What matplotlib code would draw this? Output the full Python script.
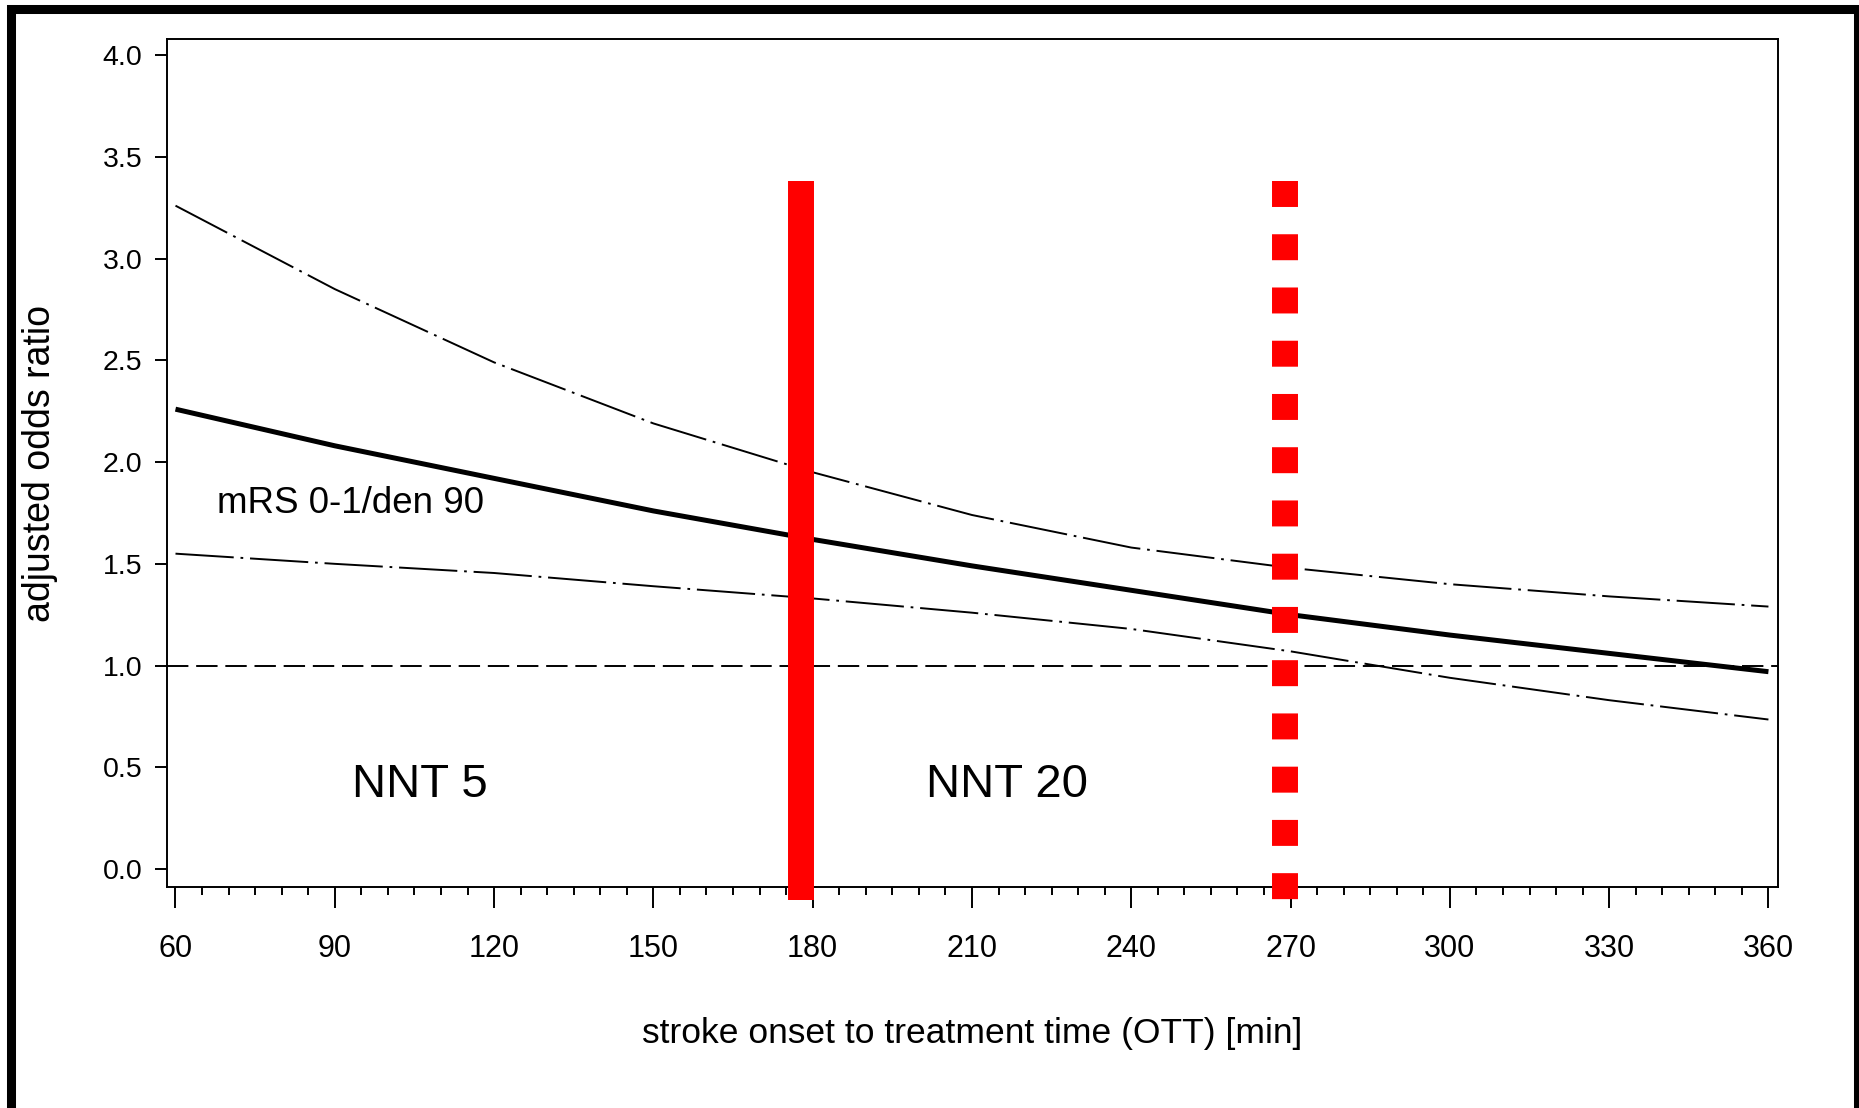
import matplotlib
matplotlib.use("Agg")
import matplotlib.pyplot as plt
import matplotlib.ticker as ticker
from matplotlib.patches import Rectangle

plt.rcParams['font.family'] = ['Liberation Sans', 'DejaVu Sans']

# Data (minutes from stroke onset -> adjusted odds ratio)
ott_min = [60, 90, 120, 150, 180, 210, 240, 270, 300, 330, 360]
odds_ratio = [2.26, 2.08, 1.92, 1.76, 1.62, 1.49, 1.37, 1.25, 1.15, 1.06, 0.97]
upper_ci = [3.26, 2.85, 2.49, 2.19, 1.95, 1.74, 1.58, 1.48, 1.40, 1.34, 1.29]
lower_ci = [1.55, 1.50, 1.455, 1.39, 1.33, 1.26, 1.18, 1.07, 0.94, 0.83, 0.735]

reference_or = 1.0
nnt5_cutoff = 177.8     # solid red marker
nnt20_cutoff = 269.0    # dotted red marker
marker_span = (3.38, -0.152)

x_ticks = list(range(60, 361, 30))
y_ticks = [0.0, 0.5, 1.0, 1.5, 2.0, 2.5, 3.0, 3.5, 4.0]

W, H = 1859, 1108
fig = plt.figure(figsize=(W / 100, H / 100), dpi=100)
ax = fig.add_axes([167 / W, 1 - 887 / H, (1778 - 167) / W, (887 - 39) / H])

# outer black frame
fig.patches.append(Rectangle((10.5 / W, 1 - 1110.5 / H), (1857.5 - 10.5) / W, (1110.5 - 9) / H,
                             transform=fig.transFigure, fill=False, edgecolor='black',
                             linewidth=6.5, zorder=10))

ax.axhline(reference_or, color='black', lw=1.4, linestyle=(0, (11, 4)))
ax.plot(ott_min, upper_ci, color='black', lw=1.4, linestyle=(0, (30, 3.5, 1.4, 3.5)))
ax.plot(ott_min, lower_ci, color='black', lw=1.4, linestyle=(0, (30, 3.5, 1.4, 3.5)))
ax.plot(ott_min, odds_ratio, color='black', lw=3.6, solid_capstyle='butt')

ax.plot([nnt5_cutoff, nnt5_cutoff], marker_span, color='red', lw=18.7,
        solid_capstyle='butt', clip_on=False, zorder=5)
ax.plot([nnt20_cutoff, nnt20_cutoff], marker_span, color='red', lw=18.7,
        linestyle=(0, (1.0, 1.05)), dash_capstyle='butt', clip_on=False, zorder=5)

ax.text(67.8, 1.749, 'mRS 0-1/den 90', fontsize=26.5, ha='left', va='baseline')
ax.text(93.2, 0.354, 'NNT 5', fontsize=34, ha='left', va='baseline')
ax.text(201.3, 0.354, 'NNT 20', fontsize=34, ha='left', va='baseline')

ax.set_xlim(58.4, 361.8)
ax.set_ylim(-0.088, 4.079)
ax.set_xticks(x_ticks)
ax.xaxis.set_minor_locator(ticker.MultipleLocator(5))
ax.set_yticks(y_ticks)
ax.yaxis.set_major_formatter(ticker.FormatStrFormatter('%.1f'))

ax.tick_params(axis='x', which='major', length=15, width=1.4, labelsize=22, pad=19)
ax.tick_params(axis='x', which='minor', length=6, width=1.4)
ax.tick_params(axis='y', which='major', length=8.6, width=1.4, labelsize=20.5, pad=9)
for s in ax.spines.values():
    s.set_linewidth(1.4)

ax.set_xlabel('stroke onset to treatment time (OTT) [min]', fontsize=25.5, va='center')
ax.xaxis.set_label_coords(0.5, -0.173)
ax.set_ylabel('adjusted odds ratio', fontsize=27, va='center')
ax.yaxis.set_label_coords(-0.0788, 0.5)

fig.savefig('out.png', dpi=100)
